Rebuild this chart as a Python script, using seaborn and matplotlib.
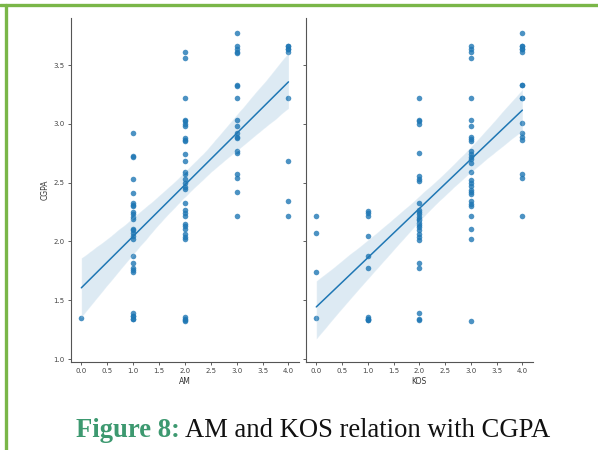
import numpy as np
import pandas as pd
import matplotlib
matplotlib.use("Agg")
import matplotlib.pyplot as plt
from matplotlib.lines import Line2D
import seaborn as sns

# CGPA values, grouped by AM level
# (darker dots are stacked duplicates, so some values appear twice)
am_0 = [1.35]
am_1 = [2.92, 2.73, 2.72, 2.53, 2.41, 2.33, 2.31, 2.30, 2.25, 2.23, 2.21, 2.19,
        2.11, 2.10, 2.07, 2.05, 2.02, 1.88, 1.82, 1.77, 1.76, 1.74, 1.39, 1.37,
        1.34, 1.34, 1.37]
am_2 = [3.61, 3.56, 3.22, 3.03, 3.02, 3.00, 2.98, 2.88, 2.86, 2.85, 2.74, 2.68,
        2.59, 2.57, 2.53, 2.50, 2.46, 2.45, 2.33, 2.27, 2.24, 2.22, 2.15, 2.13,
        2.11, 2.06, 2.04, 2.02, 1.36, 1.34, 1.33, 1.32]
am_3 = [3.77, 3.66, 3.64, 3.61, 3.60, 3.33, 3.32, 3.22, 3.03, 2.98, 2.92, 2.89,
        2.88, 2.77, 2.75, 2.57, 2.54, 2.42, 2.22]
am_4 = [3.66, 3.64, 3.61, 3.66, 3.64, 3.22, 2.68, 2.34, 2.22]

# CGPA values grouped by KOS level
kos_0 = [2.22, 2.07, 1.74, 1.35]
kos_1 = [2.26, 2.24, 2.22, 2.05, 1.88, 1.77, 1.36, 1.34, 1.33, 1.34, 1.33]
kos_2 = [3.22, 3.03, 3.02, 3.00, 2.75, 2.56, 2.53, 2.51, 2.33, 2.27, 2.25, 2.23,
         2.21, 2.19, 2.18, 2.16, 2.14, 2.12, 2.10, 2.06, 2.04, 2.01, 1.82, 1.77,
         1.39, 1.34, 1.33]
kos_3 = [3.66, 3.64, 3.61, 3.56, 3.22, 3.03, 2.98, 2.89, 2.87, 2.85, 2.77, 2.74,
         2.72, 2.70, 2.67, 2.59, 2.52, 2.50, 2.47, 2.44, 2.42, 2.40, 2.34, 2.32,
         2.30, 2.22, 2.11, 2.02, 1.32]
kos_4 = [3.77, 3.66, 3.64, 3.61, 3.66, 3.64, 3.33, 3.33, 3.22, 3.22, 3.01, 2.92,
         2.89, 2.86, 2.57, 2.54, 2.22]

x_ticks = [0.0, 0.5, 1.0, 1.5, 2.0, 2.5, 3.0, 3.5, 4.0]
y_ticks = [1.0, 1.5, 2.0, 2.5, 3.0, 3.5]


def build(groups):
    xs, ys = [], []
    for level, vals in enumerate(groups):
        xs += [level] * len(vals)
        ys += vals
    return np.array(xs, dtype=float), np.array(ys)


am_x, am_y = build([am_0, am_1, am_2, am_3, am_4])
kos_x, kos_y = build([kos_0, kos_1, kos_2, kos_3, kos_4])
df_am = pd.DataFrame({"AM": am_x, "CGPA": am_y})
df_kos = pd.DataFrame({"KOS": kos_x, "CGPA": kos_y})

sns.set_style("ticks")
plt.rcParams["font.family"] = ["DejaVu Sans"]

fig = plt.figure(figsize=(5.98, 4.5), dpi=100)
ax1 = fig.add_axes([0.1187, 0.1956, 0.381, 0.7644])
ax2 = fig.add_axes([0.5117, 0.1956, 0.379, 0.7644])

blue = "#1f77b4"
for ax, df, col in [(ax1, df_am, "AM"), (ax2, df_kos, "KOS")]:
    sns.regplot(data=df, x=col, y="CGPA", ax=ax, color=blue,
                scatter_kws={"s": 16, "alpha": 0.8, "linewidths": 0},
                line_kws={"lw": 1.1}, seed=1)
    ax.set_xlim(-0.2, 4.2)
    ax.set_ylim(0.975, 3.9)
    ax.set_xticks(x_ticks)
    ax.set_yticks(y_ticks)
    ax.tick_params(labelsize=5, length=2.5, width=0.6, colors="#444444", pad=2)
    ax.set_xlabel(col, fontsize=5.5, color="#333333", labelpad=2)
    for s in ["left", "bottom"]:
        ax.spines[s].set_linewidth(0.8)
        ax.spines[s].set_color("#555555")
    sns.despine(ax=ax)

ax1.set_ylabel("CGPA", fontsize=5.5, color="#333333", labelpad=3)
ax2.set_ylabel("")
ax2.set_yticklabels([])

# green frame of the page
green = "#7ab648"
fig.add_artist(Line2D([0.0, 1.0], [0.9889, 0.9889], color=green, lw=2.4,
                      transform=fig.transFigure))
fig.add_artist(Line2D([0.0102, 0.0102], [0.0, 0.9889], color=green, lw=2.4,
                      transform=fig.transFigure))

# caption
fig.canvas.draw()
renderer = fig.canvas.get_renderer()
cap_font = ["Liberation Serif", "DejaVu Serif"]
t1 = fig.text(0.127, 0.029, "Figure 8:", fontsize=19.2, family=cap_font,
              color="#3d9970", fontweight="bold", va="baseline")
bb = t1.get_window_extent(renderer=renderer)
x_next = (bb.x1 + 5) / fig.bbox.width
fig.text(x_next, 0.029, "AM and KOS relation with CGPA", fontsize=19.2,
         family=cap_font, color="#111111", va="baseline")

fig.savefig("out.png", dpi=100)
